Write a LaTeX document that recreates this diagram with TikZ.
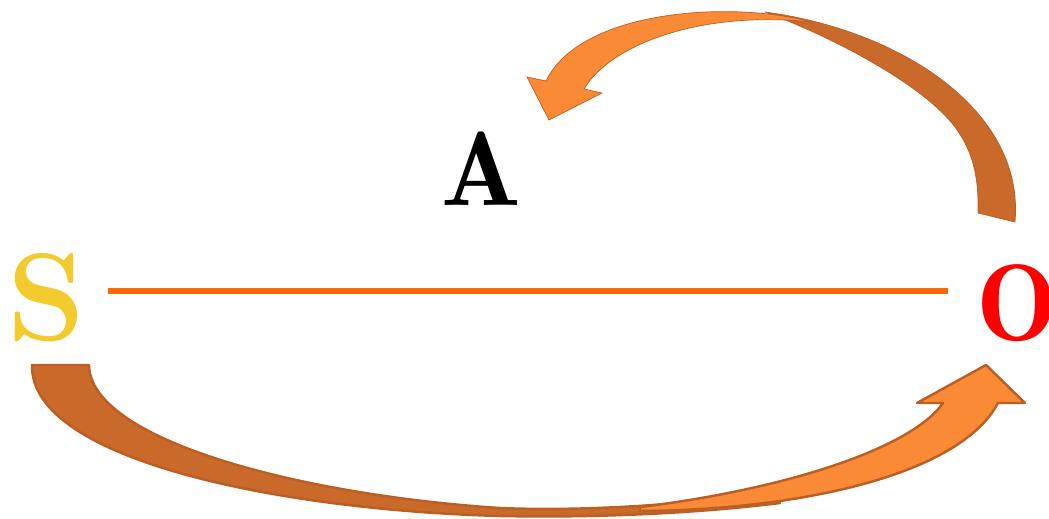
\documentclass[tikz,border=0pt]{standalone}
\usepackage{fontspec}
\usepackage{tikz}
\usetikzlibrary{positioning}
\newfontfamily\demifont{lmromandemi10-regular}[Extension=.otf]
\definecolor{sgold}{HTML}{F4CB2F}
\definecolor{ored}{HTML}{FF0000}
\definecolor{linkorange}{HTML}{FF6A00}
\definecolor{arrdark}{HTML}{C96A2B}
\definecolor{arrlight}{HTML}{FB8A37}
\definecolor{arredge}{HTML}{BC5F25}

\begin{document}
\begin{tikzpicture}[
    x=0.02cm, y=-0.02cm,
    letter/.style={inner sep=0pt, anchor=base, font=\demifont\fontsize{60}{72}\selectfont},
    link/.style={draw=linkorange, line width=3.2pt},
    backside/.style={fill=arrdark, draw=arredge, line width=0.4pt, line join=round},
    frontside/.style={fill=arrlight, draw=arredge, line width=0.4pt, line join=round},
    heavy/.style={line width=1.4pt}
]
\useasboundingbox (0,0) rectangle (1049,518);

% ---------------- Letters ----------------
\node[letter, text=sgold, font=\fontsize{71}{82}\selectfont\bfseries] (S) at (46,340) {S};
\node[letter]                                                         (A) at (481,205) {A};
\node[letter, anchor=base west, text=ored, font=\demifont\fontsize{62}{74}\selectfont] (O) at (976,340) {O};

% ---------------- Straight link ----------------
\coordinate (lineL) at (108,291);
\coordinate (lineR) at (948,291);
\draw[link] (lineL) -- (lineR);

% ---------------- Upper arrow: O back to A ----------------
\fill[backside] (765,12) .. controls (900,30) and (1025,110) .. (1015,222)
    -- (978,213) .. controls (979,175) and (972,150) .. (955,127)
    .. controls (925,87) and (840,40) .. (765,12) -- cycle;
\fill[frontside] (812,22) .. controls (730,0) and (580,10) .. (546,81)
    -- (527,77) -- (549,120) -- (602,93) -- (584,89)
    .. controls (610,45) and (700,10) .. (812,22) -- cycle;

% ---------------- Lower arrow: S to O ----------------
\fill[backside, heavy] (32,365) -- (89,365)
    .. controls (90,440) and (300,495) .. (500,508)
    .. controls (600,512) and (700,502) .. (780,493)
    -- (780,503) .. controls (700,513) and (600,518) .. (500,516)
    .. controls (280,510) and (30,460) .. (32,365) -- cycle;
\fill[frontside, heavy] (640,507) .. controls (780,490) and (910,450) .. (943,403)
    -- (917,403) -- (986,365) -- (1025,403) -- (998,403)
    .. controls (960,475) and (800,510) .. (640,511) -- cycle;

\end{tikzpicture}
\end{document}
